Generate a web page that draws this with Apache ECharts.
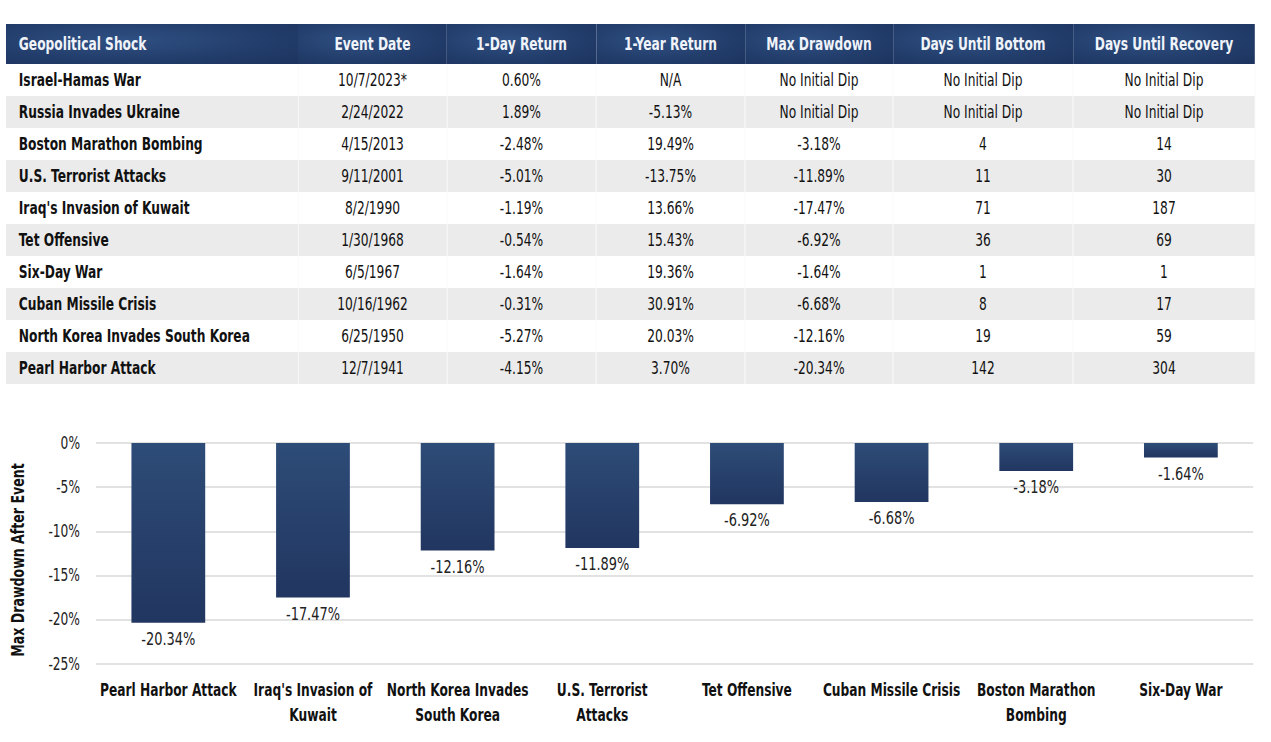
<!DOCTYPE html>
<html>
<head>
<meta charset="utf-8">
<script src="https://cdn.jsdelivr.net/npm/echarts@6/dist/echarts.min.js"></script>
<style>
  html, body { margin: 0; padding: 0; background: #fff; }
  body { width: 1271px; height: 742px; position: relative; overflow: hidden;
    font-family: 'DejaVu Sans Condensed', 'DejaVu Sans', sans-serif; }
  /* the reference uses a condensed face; squeeze the rendered text horizontally */
  #shockTable { position: absolute; left: 6px; top: 24px; width: 1561.25px;
    transform: scaleX(0.8); transform-origin: 0 0;
    border-collapse: collapse; table-layout: fixed; }
  #shockTable th { height: 40px; padding: 0; color: #f0f4fa; font-size: 17px; font-weight: bold;
    text-align: center; white-space: nowrap;
    background: radial-gradient(ellipse at 40% 40%, #2f5083 0%, #233e6c 55%, #1c335e 100%); }
  #shockTable th:first-child { text-align: left; padding-left: 16px; }
  #shockTable td { height: 32px; padding: 0; font-size: 17px; color: #111; text-align: center;
    white-space: nowrap; border-right: 1px solid #fafafa; }
  #shockTable td:first-child { text-align: left; padding-left: 16px; font-weight: bold; font-size: 17px; }
  #shockTable tr.alt td { background: #ebebeb; }
  #chart { position: absolute; left: 0; top: 400px; width: 1588.75px; height: 342px;
    transform: scaleX(0.8); transform-origin: 0 0; }
</style>
</head>
<body>
<table id="shockTable">
  <colgroup>
    <col style="width:365px"><col style="width:186.25px"><col style="width:186.25px"><col style="width:186.25px">
    <col style="width:185px"><col style="width:225px"><col style="width:227.5px">
  </colgroup>
  <thead><tr id="headRow"></tr></thead>
  <tbody id="tableBody"></tbody>
</table>
<div id="chart"></div>
<script>
// table data
const headers = ['Geopolitical Shock', 'Event Date', '1-Day Return', '1-Year Return', 'Max Drawdown', 'Days Until Bottom', 'Days Until Recovery']
const shocks = ['Israel-Hamas War', 'Russia Invades Ukraine', 'Boston Marathon Bombing', 'U.S. Terrorist Attacks', "Iraq's Invasion of Kuwait",
  'Tet Offensive', 'Six-Day War', 'Cuban Missile Crisis', 'North Korea Invades South Korea', 'Pearl Harbor Attack']
const eventDates = ['10/7/2023*', '2/24/2022', '4/15/2013', '9/11/2001', '8/2/1990', '1/30/1968', '6/5/1967', '10/16/1962', '6/25/1950', '12/7/1941']
const oneDayReturn = ['0.60%', '1.89%', '-2.48%', '-5.01%', '-1.19%', '-0.54%', '-1.64%', '-0.31%', '-5.27%', '-4.15%']
const oneYearReturn = ['N/A', '-5.13%', '19.49%', '-13.75%', '13.66%', '15.43%', '19.36%', '30.91%', '20.03%', '3.70%']
const maxDrawdown = ['No Initial Dip', 'No Initial Dip', '-3.18%', '-11.89%', '-17.47%', '-6.92%', '-1.64%', '-6.68%', '-12.16%', '-20.34%']
const daysUntilBottom = ['No Initial Dip', 'No Initial Dip', '4', '11', '71', '36', '1', '8', '19', '142']
const daysUntilRecovery = ['No Initial Dip', 'No Initial Dip', '14', '30', '187', '69', '1', '17', '59', '304']

// chart data
const chartCategories = ['Pearl Harbor Attack', "Iraq's Invasion of\nKuwait", 'North Korea Invades\nSouth Korea', 'U.S. Terrorist\nAttacks',
  'Tet Offensive', 'Cuban Missile Crisis', 'Boston Marathon\nBombing', 'Six-Day War']
const drawdownValues = [-20.34, -17.47, -12.16, -11.89, -6.92, -6.68, -3.18, -1.64]
const yTicks = { min: -25, max: 0, interval: 5 }
const yAxisTitle = 'Max Drawdown After Event'

// build table
const headRow = document.getElementById('headRow')
headers.forEach(h => {
  const th = document.createElement('th')
  th.textContent = h
  headRow.appendChild(th)
})
const tbody = document.getElementById('tableBody')
shocks.forEach((name, i) => {
  const tr = document.createElement('tr')
  if (i % 2 === 1) tr.className = 'alt'
  const cells = [name, eventDates[i], oneDayReturn[i], oneYearReturn[i], maxDrawdown[i], daysUntilBottom[i], daysUntilRecovery[i]]
  cells.forEach(c => {
    const td = document.createElement('td')
    td.textContent = c
    tr.appendChild(td)
  })
  tbody.appendChild(tr)
})

const fontFamily = "'DejaVu Sans Condensed', 'DejaVu Sans', sans-serif"
const squeeze = 0.8 // same as the css scaleX on #chart

const option = {
  animation: false,
  backgroundColor: '#fff',
  textStyle: { fontFamily: fontFamily },
  grid: { left: 96 / squeeze, right: 18 / squeeze, top: 43, bottom: 78, containLabel: false },
  // rotated axis title, pre-scaled so it reads condensed along its length
  graphic: [{
    type: 'text',
    x: 18 / squeeze,
    y: 160,
    rotation: Math.PI / 2,
    scaleX: squeeze,
    scaleY: 1 / squeeze,
    style: {
      text: yAxisTitle,
      fill: '#111',
      font: 'bold 17.5px ' + fontFamily,
      align: 'center',
      verticalAlign: 'middle'
    }
  }],
  xAxis: {
    type: 'category',
    data: chartCategories,
    axisLine: { show: false },
    axisTick: { show: false },
    axisLabel: {
      interval: 0,
      margin: 14,
      color: '#111',
      fontWeight: 'bold',
      fontSize: 17,
      lineHeight: 25,
      fontFamily: fontFamily
    }
  },
  yAxis: {
    type: 'value',
    min: yTicks.min,
    max: yTicks.max,
    interval: yTicks.interval,
    axisLine: { show: false },
    axisTick: { show: false },
    axisLabel: {
      margin: 16 / squeeze,
      color: '#222',
      fontSize: 17,
      fontFamily: fontFamily,
      formatter: '{value}%'
    },
    splitLine: { lineStyle: { color: '#d9d9d9', width: 1.5 } }
  },
  series: [{
    type: 'bar',
    barWidth: '51%',
    data: drawdownValues,
    itemStyle: {
      color: new echarts.graphic.LinearGradient(0, 0, 0, 1, [
        { offset: 0, color: '#2d4c77' },
        { offset: 1, color: '#213660' }
      ])
    },
    label: {
      show: true,
      position: 'bottom',
      distance: 7,
      color: '#222',
      fontSize: 18,
      fontFamily: fontFamily,
      formatter: p => p.value.toFixed(2) + '%'
    }
  }]
}

const myChart = echarts.init(document.getElementById('chart'), null, { renderer: 'svg' })
myChart.setOption(option)
</script>
</body>
</html>
